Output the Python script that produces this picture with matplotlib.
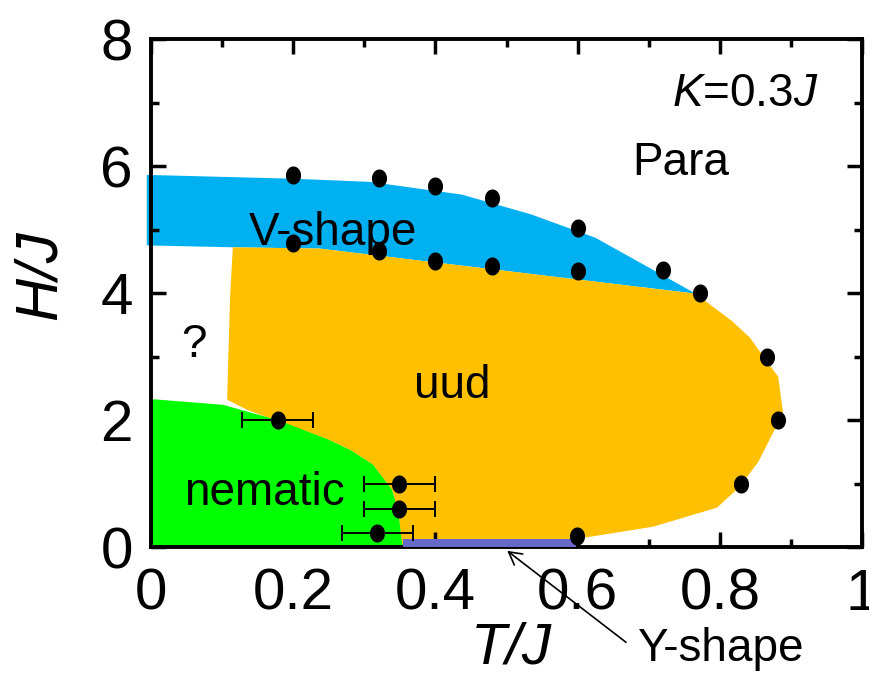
import numpy as np
import matplotlib
matplotlib.use('Agg')
import matplotlib.pyplot as plt

# Phase regions as (T/J, H/J) outlines
vshape_T = [-0.006, 0.2, 0.308, 0.437, 0.534, 0.625, 0.766, 0.237, 0.115, -0.006]
vshape_H = [5.86, 5.80, 5.75, 5.55, 5.24, 4.87, 3.99, 4.70, 4.72, 4.75]

uud_T = [0.115, 0.237, 0.766, 0.818, 0.842, 0.882, 0.889, 0.854, 0.828, 0.796,
         0.706, 0.6, 0.6, 0.353, 0.348, 0.339, 0.312, 0.28, 0.25, 0.135, 0.107, 0.111]
uud_H = [4.72, 4.70, 3.99, 3.55, 3.3, 2.68, 2.11, 1.34, 0.95, 0.62,
         0.32, 0.13, 0.0, 0.0, 0.54, 0.9, 1.3, 1.53, 1.69, 2.16, 2.32, 3.89]

nematic_T = [0.0, 0.0, 0.101, 0.178, 0.25, 0.28, 0.312, 0.339, 0.348, 0.353, 0.356]
nematic_H = [0.0, 2.33, 2.24, 2.0, 1.69, 1.53, 1.3, 0.9, 0.54, 0.06, 0.0]

# Y-shape strip along the T axis
yshape_T = [0.354, 0.597]
yshape_H = 0.12

# Simulation points
upper_T = [0.2, 0.32, 0.4, 0.48, 0.6, 0.72, 0.772]
upper_H = [5.86, 5.81, 5.69, 5.5, 5.03, 4.36, 4.0]
lower_T = [0.2, 0.32, 0.4, 0.48, 0.6]
lower_H = [4.79, 4.66, 4.51, 4.42, 4.34]
edge_T = [0.866, 0.882, 0.83, 0.599]
edge_H = [3.0, 2.0, 1.0, 0.17]
err_T = [0.178, 0.349, 0.349, 0.318]
err_H = [2.0, 1.0, 0.6, 0.22]
err_dT = [0.05, 0.05, 0.05, 0.05]

x_ticks = [0, 0.2, 0.4, 0.6, 0.8, 1.0]
x_labels = ['0', '0.2', '0.4', '0.6', '0.8', '1']
y_ticks = [0, 2, 4, 6, 8]


def main():
    plt.rcParams['font.family'] = 'Liberation Sans'
    plt.rcParams['mathtext.fontset'] = 'custom'
    plt.rcParams['mathtext.rm'] = 'Liberation Sans'
    plt.rcParams['mathtext.it'] = 'Liberation Sans:italic'

    fig = plt.figure(figsize=(8.69, 6.76), dpi=100)
    ax = fig.add_axes([0.1738, 0.1908, 0.8182, 0.7515])

    ax.fill(vshape_T, vshape_H, color='#00B0F0', lw=0, zorder=1, clip_on=False)
    ax.fill(uud_T, uud_H, color='#FFC000', lw=0, zorder=1)
    ax.fill(nematic_T, nematic_H, color='#00FF00', lw=0, zorder=2)
    ax.fill_between(yshape_T, 0, yshape_H, color='#6868C8', lw=0, zorder=3)

    # slightly tall ellipse markers like the original
    th = np.linspace(0, 2 * np.pi, 60)
    ell = np.column_stack([0.82 * np.cos(th), np.sin(th)])

    ax.errorbar(err_T, err_H, xerr=err_dT, fmt='none', ecolor='k',
                elinewidth=1.4, capsize=6, capthick=1.4, zorder=4)
    for T, H in [(upper_T, upper_H), (lower_T, lower_H), (edge_T, edge_H), (err_T, err_H)]:
        ax.plot(T, H, ls='none', marker=ell, ms=12, color='k', zorder=5)

    ax.set_xlim(0, 1)
    ax.set_ylim(0, 8)
    ax.set_xticks(x_ticks)
    ax.set_xticklabels(x_labels)
    ax.set_yticks(y_ticks)
    ax.set_xticks(np.arange(0.1, 1.0, 0.2), minor=True)
    ax.set_yticks([1, 3, 5, 7], minor=True)
    ax.tick_params(which='both', direction='in', top=True, right=True, width=2.5)
    ax.tick_params(which='major', length=11, labelsize=42)
    ax.tick_params(which='minor', length=6)
    ax.tick_params(axis='x', pad=15)
    ax.tick_params(axis='y', pad=13)
    for sp in ax.spines.values():
        sp.set_linewidth(2.8)

    fs = 33
    ax.text(0.137, 4.76, 'V-shape', fontsize=fs, zorder=6)
    ax.text(0.677, 5.86, 'Para', fontsize=fs)
    ax.text(0.733, 6.94, '$K$=0.3$J$', fontsize=fs)
    ax.text(0.424, 2.35, 'uud', fontsize=fs, ha='center')
    ax.text(0.06, 3.0, '?', fontsize=fs, ha='center')
    ax.text(0.046, 0.655, 'nematic', fontsize=fs, zorder=6)
    ax.text(0.683, -1.80, 'Y-shape', fontsize=fs, clip_on=False)
    ax.annotate('', xy=(0.501, -0.06), xytext=(0.668, -1.5),
                arrowprops=dict(arrowstyle='->,head_length=0.9,head_width=0.5',
                                lw=1.2, color='k', shrinkA=0, shrinkB=0),
                annotation_clip=False)

    fig.text(511 / 869, 1 - 663 / 676, 'T/J', fontsize=42, style='italic',
             ha='center', va='baseline')
    fig.text(40 / 869, 1 - 275 / 676, 'H/J', fontsize=43, style='italic',
             rotation=90, ha='center', va='center')

    fig.savefig('out.png', dpi=100)
    plt.close(fig)


if __name__ == '__main__':
    main()
